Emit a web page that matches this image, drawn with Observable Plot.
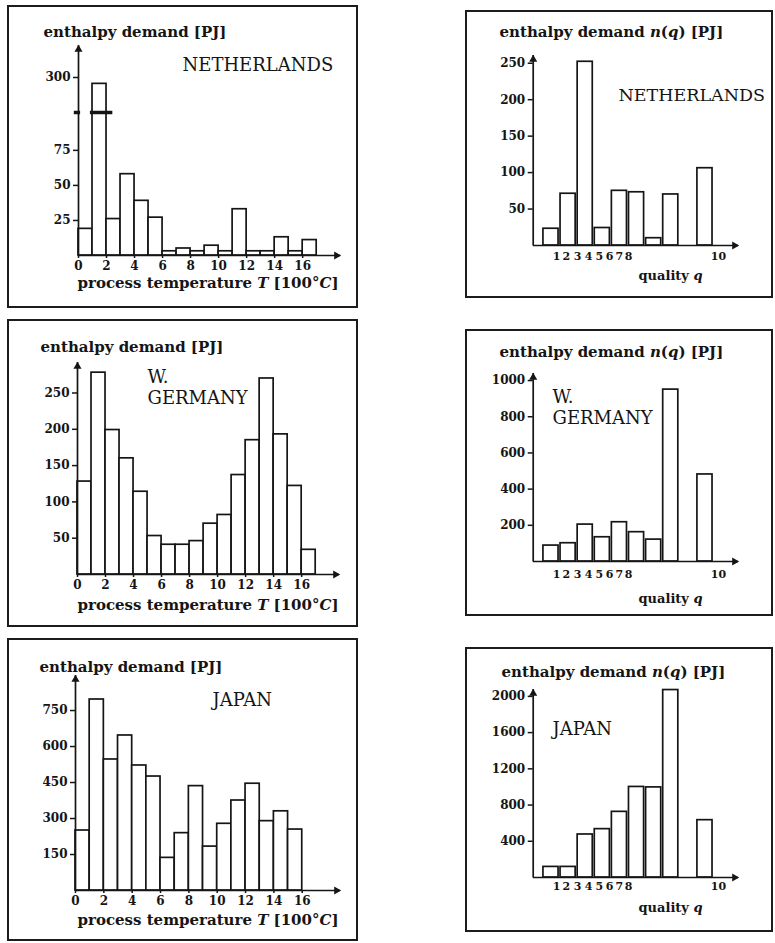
<!DOCTYPE html>
<html>
<head>
<meta charset="utf-8">
<script src="https://cdn.jsdelivr.net/npm/d3@7"></script>
<script src="https://cdn.jsdelivr.net/npm/@observablehq/plot@0.6"></script>
<style>
  html, body { margin: 0; padding: 0; background: #fff; }
  #page { position: relative; width: 775px; height: 943px; overflow: hidden; background: #fff; }
  .frame { position: absolute; border: 2px solid #1c1c1c; box-sizing: border-box; }
  .panel { position: absolute; }
  .panel svg { display: block; }
</style>
</head>
<body>
<div id="page"></div>
<script>
// ---------------- data ----------------
const tempBins = [0, 1, 2, 3, 4, 5, 6, 7, 8, 9, 10, 11, 12, 13, 14, 15, 16];
const nlTemp = [19, 264, 26, 58, 39, 27, 3, 5, 3, 7, 3, 33, 3, 3, 13, 3, 11];
const deTemp = [128, 278, 199, 160, 114, 53, 41, 41, 46, 70, 82, 137, 185, 270, 193, 122, 34];
const jpTemp = [250, 796, 546, 646, 521, 475, 136, 239, 435, 183, 278, 375, 445, 289, 330, 254];

const qualities = [1, 2, 3, 4, 5, 6, 7, 8, 10];
const nlQual = [23, 71, 252, 24, 75, 73, 10, 70, 106];
const deQual = [88, 101, 204, 134, 217, 162, 121, 950, 481];
const jpQual = [117, 117, 475, 534, 725, 1000, 995, 2070, 633];

const tempTicks = [0, 2, 4, 6, 8, 10, 12, 14, 16];
const qualityTickLabels = ["1", "2", "3", "4", "5", "6", "7", "8", "10"];
const nlTempYTicks = [25, 50, 75, 300];
const deTempYTicks = [50, 100, 150, 200, 250];
const jpTempYTicks = [150, 300, 450, 600, 750];
const nlQualYTicks = [50, 100, 150, 200, 250];
const deQualYTicks = [200, 400, 600, 800, 1000];
const jpQualYTicks = [400, 800, 1200, 1600, 2000];

const titleT = "enthalpy demand [PJ]";
const titleQ = "enthalpy demand n(q) [PJ]";
const xTitleT = "process temperature T [100°C]";
const xTitleQ = "quality q";

// ---------------- layout (kept apart from the data) ----------------
const INK = "#151515";
// the quality axis of the source puts its labels at these slot positions
const qualityTickAt = [0.82, 1.40, 2.05, 2.69, 3.33, 3.92, 4.50, 5.03, 10.29];

const tempBars = (vals) => vals.map((v, i) => ({x1: tempBins[i], x2: tempBins[i] + 1, value: v}));
const qualBars = (vals) => vals.map((v, i) => ({x1: qualities[i] - 1, x2: qualities[i], value: v}));

const panels = [
  { // Netherlands, temperature
    frame: {left: 7, top: 5, width: 351, height: 303},
    xDomain: [0, 18.7], xRange: [71, 333],
    yDomain: [0, 102, 300, 481], yRange: [250, 107, 72, 40],
    bars: tempBars(nlTemp), inset: 0,
    yTicks: nlTempYTicks, kind: "T", tickPad: 3,
    breakAt: 102,
    texts: [
      {text: titleT, x: 36, y: 27, size: 15, weight: "bold"},
      {text: "NETHERLANDS", x: 175, y: 60, size: 18, weight: "normal"},
      {text: xTitleT, x: 70, y: 278, size: 15, weight: "bold"}
    ]
  },
  { // W. Germany, temperature
    frame: {left: 7, top: 319, width: 351, height: 308},
    xDomain: [0, 18.7], xRange: [70, 332],
    yDomain: [0, 292], yRange: [255, 43],
    bars: tempBars(deTemp), inset: 0,
    yTicks: deTempYTicks, kind: "T", tickPad: 3,
    texts: [
      {text: titleT, x: 33, y: 28, size: 15, weight: "bold"},
      {text: "W.", x: 140, y: 58, size: 18, weight: "normal"},
      {text: "GERMANY", x: 140, y: 79, size: 18, weight: "normal"},
      {text: xTitleT, x: 70, y: 286, size: 15, weight: "bold"}
    ]
  },
  { // Japan, temperature
    frame: {left: 7, top: 638, width: 351, height: 303},
    xDomain: [0, 18.7], xRange: [68, 333],
    yDomain: [0, 896], yRange: [252, 37],
    bars: tempBars(jpTemp), inset: 0,
    yTicks: jpTempYTicks, kind: "T", tickPad: 3,
    texts: [
      {text: titleT, x: 32, y: 29, size: 15, weight: "bold"},
      {text: "JAPAN", x: 205, y: 62, size: 18, weight: "normal"},
      {text: xTitleT, x: 70, y: 282, size: 15, weight: "bold"}
    ]
  },
  { // Netherlands, quality
    frame: {left: 465, top: 10, width: 308, height: 288},
    xDomain: [-0.54, 11.46], xRange: [67.7, 273],
    yDomain: [0, 260.6], yRange: [235, 45],
    bars: qualBars(nlQual), inset: 1,
    yTicks: nlQualYTicks, kind: "Q", tickPad: 7,
    texts: [
      {text: titleQ, x: 34, y: 22, size: 15, weight: "bold"},
      {text: "NETHERLANDS", x: 153, y: 85, size: 17.5, weight: "normal"},
      {text: xTitleQ, x: 205, y: 265, size: 13, weight: "bold", anchor: "middle"}
    ]
  },
  { // W. Germany, quality
    frame: {left: 465, top: 329, width: 308, height: 287},
    xDomain: [-0.54, 11.46], xRange: [67.7, 273],
    yDomain: [0, 1039], yRange: [232, 44],
    bars: qualBars(deQual), inset: 1,
    yTicks: deQualYTicks, kind: "Q", tickPad: 9,
    texts: [
      {text: titleQ, x: 34, y: 23, size: 15, weight: "bold"},
      {text: "W.", x: 87, y: 68, size: 18, weight: "normal"},
      {text: "GERMANY", x: 87, y: 89, size: 18, weight: "normal"},
      {text: xTitleQ, x: 205, y: 269, size: 13, weight: "bold", anchor: "middle"}
    ]
  },
  { // Japan, quality
    frame: {left: 465, top: 647, width: 308, height: 285},
    xDomain: [-0.54, 11.46], xRange: [67.7, 273],
    yDomain: [0, 2076], yRange: [230, 42],
    bars: qualBars(jpQual), inset: 1,
    yTicks: jpQualYTicks, kind: "Q", tickPad: 5,
    texts: [
      {text: titleQ, x: 36, y: 25, size: 15, weight: "bold"},
      {text: "JAPAN", x: 87, y: 82, size: 18, weight: "normal"},
      {text: xTitleQ, x: 205, y: 260, size: 13, weight: "bold", anchor: "middle"}
    ]
  }
];

const italicParts = {
  [titleQ]: [["enthalpy demand ", 0], ["n", 1], ["(", 0], ["q", 1], [") [PJ]", 0]],
  [xTitleT]: [["process temperature ", 0], ["T", 1], [" [100°", 0], ["C", 1], ["]", 0]],
  [xTitleQ]: [["quality ", 0], ["q", 1]]
};

function drawPanel(cfg) {
  const {frame, xDomain, xRange, yDomain, yRange} = cfg;
  const mL = xRange[0];
  const mR = frame.width - xRange[1];
  const mT = yRange[yRange.length - 1];
  const mB = frame.height - yRange[0];
  const marks = [];

  marks.push(Plot.rect(cfg.bars, {
    x1: "x1", x2: "x2", y1: 0, y2: "value",
    fill: "white", stroke: INK, strokeWidth: 1.7,
    insetLeft: cfg.inset, insetRight: cfg.inset
  }));

  if (cfg.breakAt !== undefined) {
    marks.push(Plot.ruleY([cfg.breakAt], {x1: 0.85, x2: 2.45, stroke: INK, strokeWidth: 3.5}));
    marks.push(Plot.ruleY([cfg.breakAt], {x1: -0.3, x2: 0.15, stroke: INK, strokeWidth: 3.5}));
  }

  // axis lines with arrowheads
  marks.push(Plot.ruleY([0], {stroke: INK, strokeWidth: 1.7}));
  marks.push(Plot.ruleX([xDomain[0]], {stroke: INK, strokeWidth: 1.7}));
  marks.push(Plot.dot([0], {frameAnchor: "top-left", symbol: "triangle", r: 3, fill: INK, stroke: "none", dy: 4}));
  marks.push(Plot.dot([0], {frameAnchor: "bottom-right", symbol: "triangle", r: 3, rotate: 90, fill: INK, stroke: "none", dx: -4}));

  marks.push(Plot.axisY({ticks: cfg.yTicks, tickFormat: (d) => String(d), tickSize: 5, tickPadding: 3, label: null, fontSize: 12, strokeWidth: 1.5, stroke: INK, fill: INK}));
  if (cfg.kind === "T") {
    marks.push(Plot.axisX({ticks: tempTicks, tickFormat: (d) => String(d), tickSize: 3, tickPadding: cfg.tickPad, label: null, fontSize: 12, strokeWidth: 1.5, stroke: INK, fill: INK}));
  } else {
    const labelAt = new Map(qualityTickAt.map((p, i) => [p, qualityTickLabels[i]]));
    marks.push(Plot.axisX({ticks: qualityTickAt, tickFormat: (d) => labelAt.get(d), tickSize: 0, tickPadding: cfg.tickPad, label: null, fontSize: 11, fill: INK}));
  }

  for (const t of cfg.texts) {
    marks.push(Plot.text([t.text], {
      text: (d) => d,
      frameAnchor: "top-left",
      dx: t.x - mL, dy: t.y - mT,
      textAnchor: t.anchor || "start",
      lineAnchor: "middle",
      fontSize: t.size,
      fontWeight: t.weight,
      fill: INK
    }));
  }

  const svg = Plot.plot({
    width: frame.width,
    height: frame.height,
    marginLeft: mL, marginRight: mR, marginTop: mT, marginBottom: mB,
    x: {type: "linear", domain: xDomain, range: xRange},
    y: {type: "linear", domain: yDomain, range: yRange},
    style: {
      fontFamily: "'DejaVu Serif', serif",
      fontWeight: "bold",
      fontSize: "12px",
      color: INK,
      background: "transparent",
      overflow: "visible"
    },
    marks
  });

  svg.querySelectorAll("text").forEach((el) => {
    const parts = italicParts[el.textContent];
    if (!parts) return;
    el.textContent = "";
    for (const [s, it] of parts) {
      const ts = document.createElementNS("http://www.w3.org/2000/svg", "tspan");
      ts.textContent = s;
      if (it) ts.setAttribute("font-style", "italic");
      el.appendChild(ts);
    }
  });

  const page = document.getElementById("page");
  const box = document.createElement("div");
  box.className = "frame";
  Object.assign(box.style, {left: frame.left + "px", top: frame.top + "px", width: frame.width + "px", height: frame.height + "px"});
  page.appendChild(box);

  const holder = document.createElement("div");
  holder.className = "panel";
  Object.assign(holder.style, {left: frame.left + "px", top: frame.top + "px", width: frame.width + "px", height: frame.height + "px"});
  holder.appendChild(svg);
  page.appendChild(holder);
}

panels.forEach(drawPanel);
</script>
</body>
</html>
